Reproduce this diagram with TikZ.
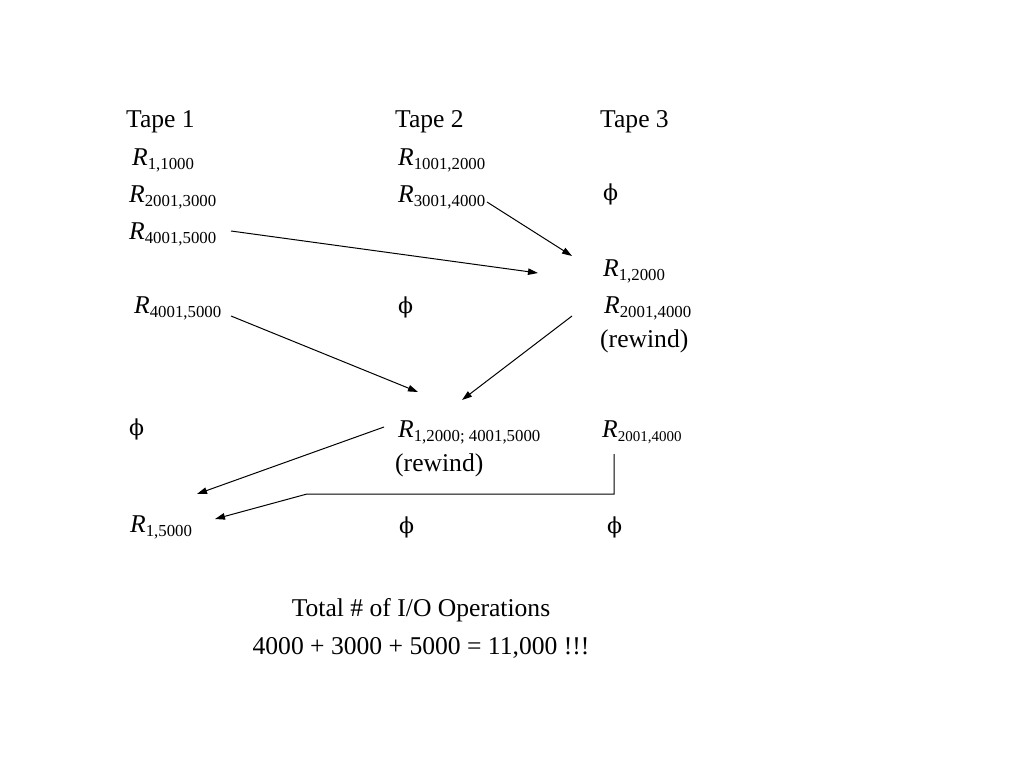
\documentclass[tikz,border=0pt]{standalone}
\usepackage{fontspec}
\setmainfont{Liberation Serif}
\newfontfamily\phifont{DejaVu Serif}
\usetikzlibrary{arrows.meta}
\newcommand{\Rsub}[2][16.8]{\textit{R}\raisebox{-4pt}{\fontsize{#1}{#1}\selectfont #2}}
\newcommand{\emptytape}{{\phifont\fontsize{22}{26}\selectfont ϕ}}
\begin{document}
\begin{tikzpicture}[x=1pt,y=-1pt,
  lbl/.style={anchor=base west, inner sep=0pt, font=\fontsize{25.6}{30}\selectfont},
  ctr/.style={anchor=base, inner sep=0pt, font=\fontsize{25.6}{30}\selectfont},
  arr/.style={-{Triangle[length=10pt,width=6.5pt]}, line width=1pt}]
\useasboundingbox[fill=white] (0,0) rectangle (1024,768);
% headers
\node[lbl] (t1) at (126,127) {Tape 1};
\node[lbl] (t2) at (395,127) {Tape 2};
\node[lbl] (t3) at (600,127) {Tape 3};
% phase 0
\node[lbl] (a1) at (132,165) {\Rsub{1,1000}};
\node[lbl] (b1) at (398,165) {\Rsub{1001,2000}};
\node[lbl] (a2) at (129,202) {\Rsub{2001,3000}};
\node[lbl] (b2) at (398,202) {\Rsub{3001,4000}};
\node[lbl] (c2) at (603,200) {\emptytape};
\node[lbl] (a3) at (129,239) {\Rsub{4001,5000}};
% phase 1
\node[lbl] (c3) at (603,276) {\Rsub{1,2000}};
\node[lbl] (a4) at (134,313) {\Rsub{4001,5000}};
\node[lbl] (b4) at (398,313) {\emptytape};
\node[lbl] (c4) at (604,313) {\Rsub{2001,4000}};
\node[lbl] (c5) at (600,347) {(rewind)};
% phase 2
\node[lbl] (a6) at (129,435) {\emptytape};
\node[lbl] (b6) at (398,437) {\Rsub{1,2000; 4001,5000}};
\node[lbl] (c6) at (602,437) {\Rsub[15]{2001,4000}};
\node[lbl] (b7) at (395,471) {(rewind)};
% phase 3
\node[lbl] (a8) at (130,532) {\Rsub{1,5000}};
\node[lbl] (b8) at (399,533) {\emptytape};
\node[lbl] (c8) at (607,533) {\emptytape};
% totals
\node[ctr] (tot) at (421,616) {Total \# of I/O Operations};
\node[ctr] (sum) at (421,654) {4000 + 3000 + 5000 = 11,000 !!!};
% arrow end points
\coordinate (p1s) at (487,202); \coordinate (p1e) at (572,256);
\coordinate (p2s) at (231,231); \coordinate (p2e) at (538,273);
\coordinate (p3s) at (231,316); \coordinate (p3e) at (418,392);
\coordinate (p4s) at (572,316); \coordinate (p4e) at (462,400);
\coordinate (p5s) at (384,427); \coordinate (p5e) at (197,494);
\coordinate (p6s) at (614,454); \coordinate (p6a) at (614,494);
\coordinate (p6b) at (307,494); \coordinate (p6e) at (215,519);
\draw[arr] (p1s) -- (p1e);
\draw[arr] (p2s) -- (p2e);
\draw[arr] (p3s) -- (p3e);
\draw[arr] (p4s) -- (p4e);
\draw[arr] (p5s) -- (p5e);
\draw[arr] (p6s) -- (p6a) -- (p6b) -- (p6e);
\end{tikzpicture}
\end{document}
